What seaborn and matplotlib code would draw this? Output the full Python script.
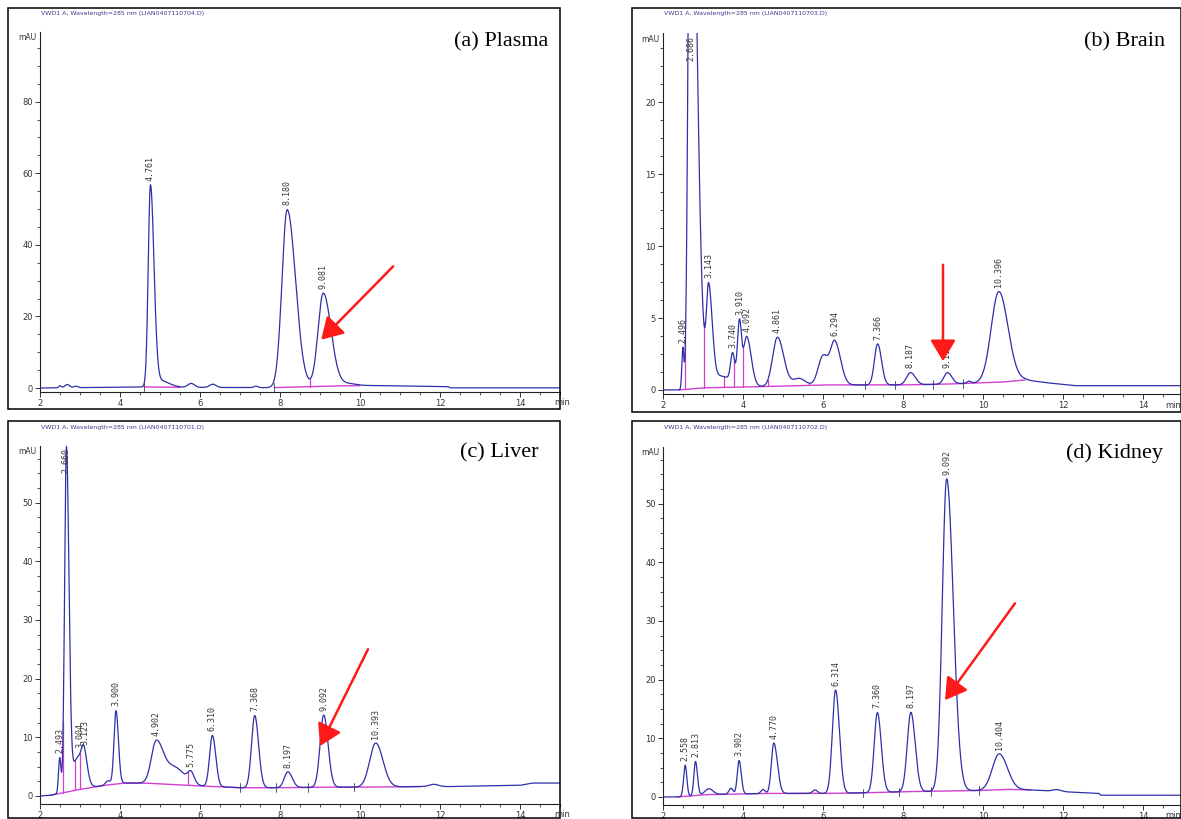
import numpy as np
import pandas as pd
import matplotlib
matplotlib.use("Agg")
import matplotlib.pyplot as plt
import seaborn as sns
from matplotlib.patches import Rectangle
from matplotlib.ticker import MultipleLocator

# ---------------- data ----------------
# (a) Plasma
a_rt     = [2.50, 2.68, 2.90, 4.761, 5.00, 5.78, 6.32, 7.40, 8.180, 9.081, 9.70]
a_height = [0.6, 0.9, 0.4, 56.0, 1.8, 1.1, 0.9, 0.4, 49.6, 26.0, 0.6]
a_sigma  = [0.03, 0.06, 0.05, 0.055, 0.15, 0.08, 0.08, 0.05, 0.13, 0.13, 0.2]
a_tail   = [1.0, 1.0, 1.0, 1.6, 1.5, 1.0, 1.0, 1.0, 1.6, 1.5, 1.0]
a_drift_t = [2.0, 4.6, 5.5, 7.8, 9.4, 10.3, 12.2, 12.25, 15.0]
a_drift_y = [0.0, 0.3, 0.2, 0.1, 0.6, 0.7, 0.4, 0.05, 0.05]
a_integ   = [(4.6, 5.5), (7.85, 10.0)]
a_drops   = [8.75]
a_ticks   = [4.6, 7.85]
a_labels  = ["4.761", "8.180", "9.081"]
a_label_rt = [4.761, 8.180, 9.081]

# (b) Brain
b_rt     = [2.496, 2.686, 3.143, 3.40, 3.740, 3.910, 4.092, 4.861, 5.40, 6.00, 6.294, 7.366, 8.187, 9.111, 9.65, 10.396]
b_height = [2.8, 45.0, 6.3, 0.8, 1.9, 4.2, 3.4, 3.4, 0.5, 2.0, 3.0, 2.85, 0.85, 0.8, 0.15, 6.3]
b_sigma  = [0.025, 0.055, 0.055, 0.35, 0.05, 0.05, 0.08, 0.12, 0.15, 0.12, 0.11, 0.08, 0.10, 0.09, 0.05, 0.19]
b_tail   = [1.0, 2.7, 1.6, 1.0, 1.0, 1.0, 1.4, 1.3, 1.0, 1.0, 1.3, 1.2, 1.2, 1.2, 1.0, 1.2]
b_drift_t = [2.0, 2.4, 3.0, 4.0, 6.0, 8.0, 9.0, 10.5, 11.05, 11.6, 12.3, 15.0]
b_drift_y = [0.0, 0.0, 0.15, 0.2, 0.35, 0.35, 0.4, 0.55, 0.7, 0.5, 0.3, 0.3]
b_integ   = [(2.4, 11.05)]
b_drops   = [2.56, 3.02, 3.53, 3.78, 4.0, 4.62, 5.65]
b_ticks   = [7.05, 7.8, 8.75, 9.5]
b_labels  = ["2.496", "2.686", "3.143", "3.740", "3.910", "4.092", "4.861", "6.294", "7.366", "8.187", "9.111", "10.396"]
b_label_rt = [2.496, 2.686, 3.143, 3.740, 3.910, 4.092, 4.861, 6.294, 7.366, 8.187, 9.111, 10.396]

# (c) Liver
c_rt     = [2.493, 2.660, 2.95, 3.10, 3.70, 3.900, 4.902, 5.35, 5.775, 6.310, 7.368, 8.197, 9.092, 10.393, 11.85]
c_height = [6.0, 58.0, 5.5, 4.0, 0.7, 12.5, 6.8, 3.0, 1.8, 8.7, 12.3, 2.7, 12.3, 7.5, 0.3]
c_sigma  = [0.03, 0.045, 0.15, 0.06, 0.06, 0.05, 0.12, 0.25, 0.08, 0.07, 0.08, 0.09, 0.09, 0.15, 0.10]
c_tail   = [1.0, 1.4, 1.0, 1.3, 1.0, 1.2, 1.4, 1.0, 1.0, 1.2, 1.2, 1.2, 1.2, 1.2, 1.0]
c_drift_t = [2.0, 2.25, 2.9, 3.6, 4.1, 4.6, 5.7, 7.0, 8.0, 9.0, 10.0, 11.5, 11.8, 12.2, 13.0, 14.0, 14.3, 15.0]
c_drift_y = [0.0, 0.1, 1.0, 1.8, 2.2, 2.2, 1.8, 1.4, 1.4, 1.5, 1.5, 1.6, 1.7, 1.6, 1.7, 1.8, 2.2, 2.2]
c_integ   = [(2.25, 11.5)]
c_drops   = [2.58, 2.88, 3.0, 5.7, 6.08]
c_ticks   = [7.0, 7.9, 8.7, 9.85]
c_labels  = ["2.493", "2.660", "3.004", "3.123", "3.900", "4.902", "5.775", "6.310", "7.368", "8.197", "9.092", "10.393"]
c_label_rt = [2.493, 2.660, 3.004, 3.123, 3.900, 4.902, 5.775, 6.310, 7.368, 8.197, 9.092, 10.393]

# (d) Kidney
d_rt     = [2.556, 2.813, 3.15, 3.70, 3.902, 4.50, 4.770, 5.80, 6.314, 7.360, 8.197, 9.092, 10.404, 11.85]
d_height = [5.3, 5.8, 1.0, 1.0, 5.7, 0.7, 8.6, 0.6, 17.6, 13.6, 13.5, 53.2, 6.1, 0.3]
d_sigma  = [0.04, 0.04, 0.10, 0.05, 0.045, 0.05, 0.06, 0.06, 0.08, 0.08, 0.09, 0.11, 0.17, 0.10]
d_tail   = [1.0, 1.2, 1.0, 1.0, 1.2, 1.0, 1.5, 1.0, 1.2, 1.2, 1.2, 1.5, 1.2, 1.0]
d_drift_t = [2.0, 2.35, 2.7, 3.1, 3.8, 4.6, 5.3, 6.0, 7.0, 8.0, 9.0, 9.9, 10.6, 11.2, 12.0, 12.9, 12.95, 15.0]
d_drift_y = [0.0, 0.0, 0.2, 0.4, 0.5, 0.6, 0.6, 0.6, 0.7, 0.9, 1.0, 1.1, 1.3, 1.2, 0.9, 0.6, 0.3, 0.3]
d_integ   = [(2.35, 11.2)]
d_drops   = [2.68]
d_ticks   = [7.0, 7.9, 8.7, 9.9]
d_labels  = ["2.558", "2.813", "3.902", "4.770", "6.314", "7.360", "8.197", "9.092", "10.404"]
d_label_rt = [2.556, 2.813, 3.902, 4.770, 6.314, 7.360, 8.197, 9.092, 10.404]

titles  = ["(a) Plasma", "(b) Brain", "(c) Liver", "(d) Kidney"]
headers = ["VWD1 A, Wavelength=285 nm (LIAN0407110704.D)",
           "VWD1 A, Wavelength=285 nm (LIAN0407110703.D)",
           "VWD1 A, Wavelength=285 nm (LIAN0407110701.D)",
           "VWD1 A, Wavelength=285 nm (LIAN0407110702.D)"]
# arrow (tail x, tail y, head x, head y) in data units
arrows = [(10.83, 34.0, 9.03, 13.5),
          (9.00, 8.7, 9.00, 2.0),
          (10.20, 25.0, 9.00, 8.5),
          (10.80, 33.0, 9.05, 16.5)]

# ---------------- figure ----------------
W, H = 1181, 819
sns.set_theme(style="white")
plt.rcParams['font.family'] = ['DejaVu Sans']
fig = plt.figure(figsize=(W / 100, H / 100), dpi=100)

def fx(px):
    return px / W

def fy(py):
    return 1 - py / H

# layout in pixels: axes (left, right, top, bottom), frame (l, t, r, b)
layout = [
    dict(ax=(40, 560, 31.8, 391.6), frame=(8, 8, 560, 409), ylim=(-1.0, 99.5), major=20, title_xy=(548, 42)),
    dict(ax=(663, 1181, 33.0, 394.3), frame=(632, 8, 1181, 412), ylim=(-0.3, 24.8), major=5, title_xy=(1165, 42)),
    dict(ax=(40, 560, 445.6, 803.6), frame=(8, 421, 560, 818), ylim=(-1.3, 59.7), major=10, title_xy=(538, 453)),
    dict(ax=(663, 1181, 446.6, 804.6), frame=(632, 421, 1181, 818), ylim=(-1.3, 59.7), major=10, title_xy=(1163, 453)),
]

panels = [
    (a_rt, a_height, a_sigma, a_tail, a_drift_t, a_drift_y, a_integ, a_drops, a_ticks, a_labels, a_label_rt),
    (b_rt, b_height, b_sigma, b_tail, b_drift_t, b_drift_y, b_integ, b_drops, b_ticks, b_labels, b_label_rt),
    (c_rt, c_height, c_sigma, c_tail, c_drift_t, c_drift_y, c_integ, c_drops, c_ticks, c_labels, c_label_rt),
    (d_rt, d_height, d_sigma, d_tail, d_drift_t, d_drift_y, d_integ, d_drops, d_ticks, d_labels, d_label_rt),
]

t = np.arange(2.0, 15.0001, 0.004)
SIG_COL = "#2f2fa8"
BASE_COL = "#d23fd2"

for i, (lay, pdata) in enumerate(zip(layout, panels)):
    rt, hh, ss, tl, dt, dy, integ, drops, bticks, labels, label_rt = pdata
    drift = np.interp(t, dt, dy)
    sig = drift.copy()
    for r, h, s, k in zip(rt, hh, ss, tl):
        sd = np.where(t < r, s, s * k)
        sig += h * np.exp(-0.5 * ((t - r) / sd) ** 2)

    l, r_, tp, bt = lay["ax"]
    ax = fig.add_axes([fx(l), fy(bt), fx(r_) - fx(l), fy(tp) - fy(bt)])
    ax.set_facecolor("none")
    xmax = 2 + (r_ - l) / 40.0
    ax.set_xlim(2, xmax)
    ax.set_ylim(*lay["ylim"])
    y0, y1 = lay["ylim"]
    yr = y1 - y0

    # integration baseline
    for (s0, s1) in integ:
        m = (t >= s0) & (t <= s1)
        sns.lineplot(x=t[m], y=drift[m], ax=ax, color=BASE_COL, lw=1.0,
                     estimator=None, sort=False, zorder=2)
    # drop lines
    for dl in drops:
        yb = np.interp(dl, t, drift)
        ys = np.interp(dl, t, sig)
        ax.plot([dl, dl], [yb, ys], color=BASE_COL, lw=0.9, zorder=2)
    for bk in bticks:
        yb = np.interp(bk, t, drift)
        ax.plot([bk, bk], [yb - 0.012 * yr, yb + 0.012 * yr], color="#555577", lw=0.7, zorder=3)

    # signal
    df = pd.DataFrame({"t": t, "mAU": sig})
    sns.lineplot(data=df, x="t", y="mAU", ax=ax, color=SIG_COL, lw=0.9,
                 estimator=None, sort=False, zorder=3)

    # peak labels
    for lab, lr in zip(labels, label_rt):
        yv = np.interp(lr, t, sig)
        if yv > y1 * 0.93:
            ax.annotate(lab, xy=(lr, y1), xytext=(0, -2), textcoords="offset points",
                        rotation=90, ha="center", va="top", fontsize=6,
                        family="DejaVu Sans Mono", color="#3a3a3a")
        else:
            ax.annotate(lab, xy=(lr, yv), xytext=(0, 3), textcoords="offset points",
                        rotation=90, ha="center", va="bottom", fontsize=6,
                        family="DejaVu Sans Mono", color="#3a3a3a")

    # arrow
    tx, ty, hx, hy = arrows[i]
    ax.annotate("", xy=(hx, hy), xytext=(tx, ty),
                arrowprops=dict(arrowstyle="-|>,head_length=1.0,head_width=0.6",
                                color="#ff1a1a", lw=1.8, mutation_scale=13, shrinkA=0, shrinkB=0),
                zorder=6)

    # axes styling
    for sp in ["top", "right"]:
        ax.spines[sp].set_visible(False)
    for sp in ["left", "bottom"]:
        ax.spines[sp].set_color("#222222")
        ax.spines[sp].set_linewidth(0.8)
    ax.xaxis.set_major_locator(MultipleLocator(2))
    ax.xaxis.set_minor_locator(MultipleLocator(0.5))
    ax.yaxis.set_major_locator(MultipleLocator(lay["major"]))
    ax.yaxis.set_minor_locator(MultipleLocator(lay["major"] / 4))
    ax.tick_params(axis="both", which="major", direction="out", length=3.5, width=0.7,
                   labelsize=6, colors="#333333", pad=1.5, left=True, bottom=True)
    ax.tick_params(axis="both", which="minor", direction="out", length=2, width=0.6,
                   colors="#333333", left=True, bottom=True)
    ax.set_xlabel("")
    ax.set_ylabel("")
    ax.grid(False)

    # texts
    fl, ft, fr, fb = lay["frame"]
    fig.text(fx(l - 22), fy(tp + 6), "mAU", fontsize=5.5, color="#333333", va="center", ha="left")
    fig.text(fx(l + 1), fy(ft + 6), headers[i], fontsize=4.5, color="#3a3a90", va="center", ha="left")
    fig.text(fx(min(r_ - 6, W - 16)), fy(bt + 11), "min", fontsize=6, color="#333333", va="center", ha="left")
    tx_, ty_ = lay["title_xy"]
    fig.text(fx(tx_), fy(ty_), titles[i], fontsize=16, family="Liberation Serif",
             color="black", va="center", ha="right")

    # panel frame
    fig.add_artist(Rectangle((fx(fl), fy(fb)), fx(fr) - fx(fl), fy(ft) - fy(fb),
                             transform=fig.transFigure, fill=False, edgecolor="black", lw=1.1))

fig.savefig("out.png", dpi=100)
